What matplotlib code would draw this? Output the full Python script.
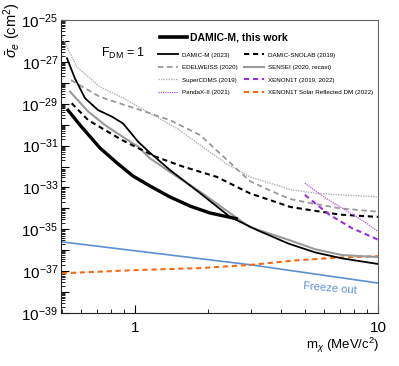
import matplotlib
matplotlib.use("Agg")
import matplotlib.pyplot as plt
import numpy as np
from matplotlib.lines import Line2D
from matplotlib.ticker import FixedLocator, NullFormatter, LogLocator

plt.rcParams["font.family"] = ["Liberation Sans", "DejaVu Sans"]
plt.rcParams["mathtext.fontset"] = "custom"
plt.rcParams["mathtext.rm"] = "Liberation Sans"
plt.rcParams["mathtext.it"] = "Liberation Sans:italic"
plt.rcParams["mathtext.bf"] = "Liberation Sans:bold"

# DM mass (MeV/c^2) and cross section (cm^2)
damicm_new_m = [0.525, 0.594, 0.718, 0.843, 0.981, 1.153, 1.393, 1.684, 2.036, 2.65]
damicm_new_s = [5.6e-30, 9.5e-31, 7.6e-32, 1.48e-32, 3.5e-33, 1.17e-33, 3.5e-34,
                1.29e-34, 6.0e-35, 3.1e-35]

damicm_m = [0.525, 0.566, 0.623, 0.704, 0.804, 0.892, 1.029, 1.153, 1.393, 1.85,
            2.46, 3.2, 4.27, 5.5, 7.09, 10]
damicm_s = [1.48e-27, 1.62e-28, 1.82e-29, 5.0e-30, 2.4e-30, 1.15e-30, 1.55e-31,
            4.5e-32, 6.8e-33, 5.4e-34, 3.9e-35, 8.9e-36, 2.1e-36, 7.9e-37,
            4.1e-37, 2.2e-37]

snolab_m = [0.549, 0.641, 0.753, 0.882, 1.03, 1.21, 1.58, 2.17, 2.97, 3.59, 4.35,
            5.25, 7.0, 10]
snolab_s = [1.05e-29, 1.66e-30, 5.5e-31, 1.86e-31, 7.6e-32, 3.0e-32, 9.8e-33,
            3.2e-33, 5.2e-34, 2.5e-34, 1.17e-34, 8.3e-35, 5.0e-35, 3.9e-35]

edelweiss_m = [0.545, 0.718, 1.05, 1.4, 1.85, 2.4, 2.97, 3.6, 4.35, 5.25, 7.0, 10]
edelweiss_s = [1.35e-28, 2.1e-29, 5.0e-30, 1.6e-30, 3.2e-31, 2.0e-32, 2.0e-33,
               7.1e-34, 2.8e-34, 1.8e-34, 1.0e-34, 6.9e-35]

sensei_m = [0.54, 0.642, 0.753, 0.882, 1.03, 1.15, 1.39, 1.85, 2.58, 2.97, 4.26,
            5.5, 7.1, 10]
sensei_s = [3.8e-29, 4.2e-30, 9.5e-31, 2.8e-31, 8.9e-32, 2.5e-32, 5.6e-33,
            6.3e-34, 4.0e-35, 1.26e-35, 3.2e-36, 1.12e-36, 5.9e-37, 4.7e-37]

supercdms_m = [0.5, 0.577, 0.718, 0.9, 1.15, 1.5, 1.85, 2.4, 2.97, 3.6, 4.35, 5.6, 10]
supercdms_s = [1.6e-26, 5.6e-28, 6.3e-29, 1.8e-29, 3.5e-30, 6.3e-31, 1.07e-31,
               1.26e-32, 3.2e-33, 1.6e-33, 7.9e-34, 5.2e-34, 3.5e-34]

xenon_m = [5.0, 6.3, 7.8, 10]
xenon_s = [4.4e-34, 5.0e-35, 1.15e-35, 3.2e-36]

pandax_m = [5.0, 6.0, 7.5, 8.7, 10]
pandax_s = [1.6e-33, 3.5e-34, 7.1e-35, 2.5e-35, 7.9e-36]

xenon_srdm_m = [0.5, 1.0, 1.85, 3.0, 4.5, 6.5, 10]
xenon_srdm_s = [7.9e-38, 1.12e-37, 1.4e-37, 2.0e-37, 3.2e-37, 4.3e-37, 5.2e-37]

freeze_m = [0.5, 3.0, 10]
freeze_s = [2.5e-36, 2.0e-37, 2.7e-38]

GRAY = "#9a9a9a"
LIGHTGRAY = "#b0b0b0"
PURPLE = "#9a2fe0"
LILAC = "#b355e8"
ORANGE = "#fa6a14"
BLUE = "#5b8fd4"
DASH = (0, (2.5, 1.8))

fig = plt.figure(figsize=(3.99, 3.66), dpi=100)
ax = fig.add_axes([61 / 399, 1 - 313 / 366, 317 / 399, 293 / 366])

ax.plot(freeze_m, freeze_s, color=BLUE, lw=1.2)
ax.plot(xenon_srdm_m, xenon_srdm_s, color=ORANGE, lw=1.5, ls=DASH)
ax.plot(supercdms_m, supercdms_s, color=LIGHTGRAY, lw=1.0, ls=(0, (1, 0.8)))
ax.plot(edelweiss_m, edelweiss_s, color=GRAY, lw=1.3, ls=(0, (3, 2)))
ax.plot(sensei_m, sensei_s, color=GRAY, lw=1.5)
ax.plot(snolab_m, snolab_s, color="black", lw=1.5, ls=DASH)
ax.plot(pandax_m, pandax_s, color=LILAC, lw=0.9, ls=(0, (1, 0.8)))
ax.plot(xenon_m, xenon_s, color=PURPLE, lw=1.5, ls=DASH)
ax.plot(damicm_m, damicm_s, color="black", lw=1.3)
ax.plot(damicm_new_m, damicm_new_s, color="black", lw=2.4, solid_capstyle="butt")

ax.set_xscale("log")
ax.set_yscale("log")
ax.set_xlim(0.496, 10)
ax.set_ylim(1e-39, 1e-25)

ax.set_xticks([1, 10])
ax.set_xticklabels(["1", "10"])
ax.xaxis.set_minor_locator(LogLocator(base=10, subs=np.arange(2, 10), numticks=20))
ax.xaxis.set_minor_formatter(NullFormatter())

exps = np.arange(-39, -24)
ax.yaxis.set_major_locator(FixedLocator(10.0 ** exps))
ax.set_yticklabels([rf"$10^{{{e}}}$" if e % 2 else "" for e in exps])
ax.yaxis.set_minor_locator(LogLocator(base=10, subs=np.arange(2, 10), numticks=30))
ax.yaxis.set_minor_formatter(NullFormatter())

ax.tick_params(which="both", direction="in", top=False, right=False,
               labelsize=11, colors="black")
ax.tick_params(which="major", length=6, width=0.8)
ax.tick_params(which="minor", length=3, width=0.6)
ax.tick_params(axis="x", pad=6)
ax.tick_params(axis="y", pad=2)
for side in ["top", "right"]:
    ax.spines[side].set_color("#666666")
for side in ["left", "bottom"]:
    ax.spines[side].set_color("#222222")

fig.text(12 / 399, 1 - 2 / 366, r"$\bar{\sigma}_e$ (cm$^2$)", rotation=90,
         ha="center", va="top", fontsize=10.5)
fig.text(379 / 399, 1 - 345 / 366, r"m$_\chi$ (MeV/c$^2$)", ha="right",
         va="center", fontsize=9.5)

ax.text(0.125, 0.885, r"F$_{\rm DM}$ = 1", transform=ax.transAxes,
        fontsize=9, va="center", ha="left")
ax.text(0.85, 0.085, "Freeze out", transform=ax.transAxes, color=BLUE,
        fontsize=8, rotation=-5, ha="center", va="center")

h_new = [Line2D([], [], color="black", lw=2.6)]
leg1 = ax.legend(h_new, ["DAMIC-M, this work"], loc="upper left",
                 bbox_to_anchor=(155 / 399, 1 - 27 / 366),
                 bbox_transform=fig.transFigure, frameon=False, borderpad=0,
                 handlelength=2.6, handletextpad=0.25,
                 prop={"weight": "bold", "size": 7.5})
ax.add_artist(leg1)

handles = [
    Line2D([], [], color="black", lw=1.3),
    Line2D([], [], color="black", lw=1.5, ls=DASH),
    Line2D([], [], color=GRAY, lw=1.3, ls=(0, (3, 2))),
    Line2D([], [], color=GRAY, lw=1.5),
    Line2D([], [], color=LIGHTGRAY, lw=1.0, ls=(0, (1, 0.8))),
    Line2D([], [], color=PURPLE, lw=1.5, ls=DASH),
    Line2D([], [], color=LILAC, lw=0.9, ls=(0, (1, 0.8))),
    Line2D([], [], color=ORANGE, lw=1.5, ls=DASH),
]
labels = ["DAMIC-M (2023)", "DAMIC-SNOLAB (2019)", "EDELWEISS (2020)",
          "SENSEI (2020, recast)", "SuperCDMS (2019)", "XENON1T (2019, 2022)",
          "PandaX-II (2021)", "XENON1T Solar Reflected DM (2022)"]
# legend fills row by row, matplotlib fills column by column
order = [0, 2, 4, 6, 1, 3, 5, 7]
ax.legend([handles[i] for i in order], [labels[i] for i in order], ncol=2,
          loc="upper left", bbox_to_anchor=(155 / 399, 1 - 49 / 366),
          bbox_transform=fig.transFigure, frameon=False, borderpad=0,
          fontsize=4.5, handlelength=3.2, handletextpad=0.6,
          columnspacing=1.0, labelspacing=1.15)

fig.savefig("out.png", dpi=100)
